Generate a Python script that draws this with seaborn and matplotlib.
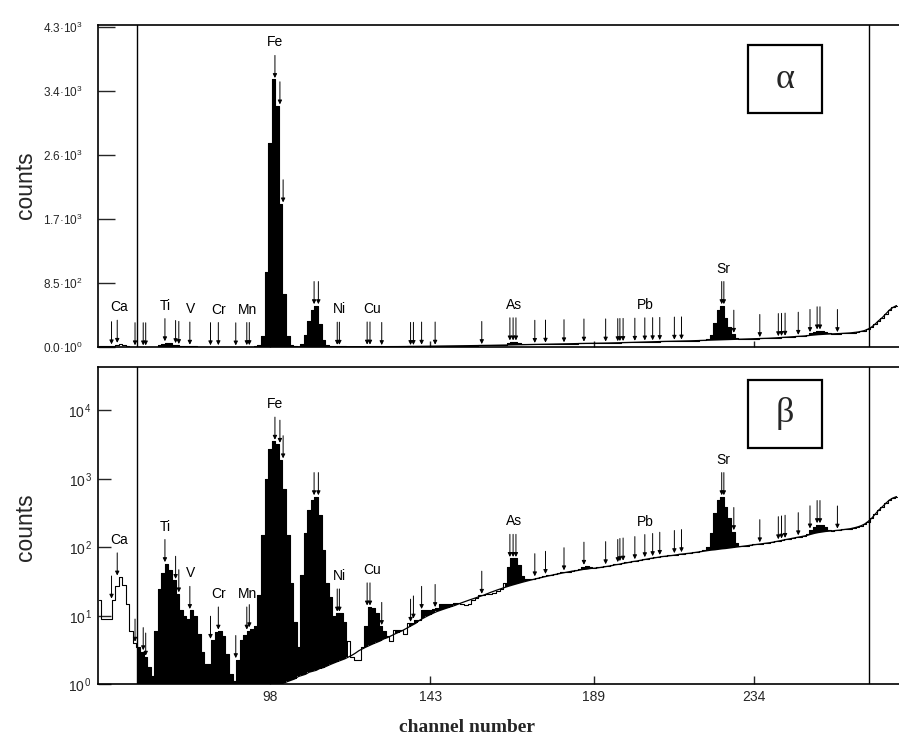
import numpy as np
import pandas as pd
import matplotlib
matplotlib.use("Agg")
import matplotlib.pyplot as plt
import seaborn as sns
from matplotlib.patches import Rectangle
from matplotlib.ticker import NullLocator

# ---------------- data ----------------
channels = list(range(50, 275))

counts = [
    17, 9, 9, 9, 17, 27, 37, 28, 15, 6,            # 50-59
    4, 3.5, 3, 2.5, 1.8, 1.3, 6, 25, 42, 58,       # 60-69
    47, 33, 21, 12, 10, 9, 12, 10, 5.5, 3,         # 70-79
    2, 2, 4.4, 5.9, 6, 5, 2.8, 1.4, 1.1, 2.3,      # 80-89
    4.4, 5.2, 6, 6.5, 7, 20, 150, 1000, 2700, 3550,  # 90-99
    3200, 1900, 700, 150, 30, 8, 3.5, 40, 160, 350,  # 100-109
    490, 550, 300, 90, 30, 19, 10, 11, 11, 8,      # 110-119
    4.3, 2.5, 2.3, 2.3, 3.5, 7, 13.5, 13, 11, 7,   # 120-129
    6, 5, 4.3, 6.2, 6.2, 6.2, 5.5, 7.8, 7.8, 8.7,  # 130-139
    8.7, 12, 12, 12, 12.5, 12.8, 15, 15, 15, 15,   # 140-149
    15.5, 15.5, 15, 14.4, 15, 17, 18, 20, 20, 21,  # 150-159
    21, 21.5, 23, 25, 30, 52, 69, 69, 55, 38,      # 160-169
    35, 34, 35, 36, 37, 38, 39, 40, 41, 42,        # 170-179
    43, 44, 44, 45, 46, 48, 51, 53, 52, 50,        # 180-189
    51, 52, 53, 54, 56, 58, 58, 60, 61, 62,        # 190-199
    63, 64, 65.5, 67, 68.5, 70, 71, 72.5, 74, 75,  # 200-209
    76, 77, 78.5, 80, 81, 82, 83, 84.5, 86, 88,    # 210-219
    92, 100, 160, 313, 490, 550, 390, 265, 170, 114,  # 220-229
    104, 106, 106, 108, 110, 111, 113, 115, 117, 119,  # 230-239
    122, 125, 128, 131, 134, 137, 140, 143, 148, 158,  # 240-249
    180, 200, 215, 215, 200, 180, 175, 177, 179, 182,  # 250-259
    185, 188, 192, 198, 206, 218, 238, 265, 305, 350,  # 260-269
    390, 440, 490, 525, 550,                        # 270-274
]

background = [
    0.1, 0.1, 0.1, 0.1, 0.1, 0.1, 0.1, 0.1, 0.1, 0.1,          # 50-59
    0.1, 0.1, 0.1, 0.1, 0.1, 0.1, 0.1, 0.1, 0.1, 0.1,          # 60-69
    0.1, 0.2, 0.2, 0.2, 0.2, 0.2, 0.2, 0.2, 0.2, 0.2,          # 70-79
    0.2, 0.3, 0.3, 0.3, 0.3, 0.3, 0.3, 0.3, 0.3, 0.3,          # 80-89
    0.3, 0.45, 0.45, 0.45, 0.45, 0.45, 0.55, 0.6, 0.7, 0.8,    # 90-99
    0.9, 1.0, 1.05, 1.1, 1.15, 1.2, 1.3, 1.35, 1.4, 1.5,       # 100-109
    1.55, 1.6, 1.7, 1.75, 1.85, 1.95, 2.05, 2.15, 2.25, 2.35,  # 110-119
    2.5, 2.65, 2.85, 3.1, 3.3, 3.5, 3.7, 3.9, 4.1, 4.3,        # 120-129
    4.6, 4.8, 5.1, 5.4, 5.7, 6.0, 6.4, 6.8, 7.3, 7.8,          # 130-139
    8.6, 9.2, 9.8, 10.4, 11.0, 11.6, 12.1, 12.6, 13.1, 13.6,   # 140-149
    14.2, 14.9, 15.6, 16.3, 17.0, 17.7, 18.4, 19.2, 20.0, 21.0,  # 150-159
    22, 23, 24, 25, 26, 27, 28, 29, 30, 31,                    # 160-169
    32, 33, 34, 35, 36, 37, 38, 39, 40, 41,                    # 170-179
    42, 43, 44, 45, 45.5, 46.5, 47.5, 48, 49, 49.5,            # 180-189
    50, 51, 52, 53, 54, 55.5, 56.5, 58, 59, 60.5,              # 190-199
    62, 63, 64.5, 66, 67.5, 69, 70, 71.5, 73, 74,              # 200-209
    75, 76, 77.5, 79, 80, 81, 82, 83.5, 85, 86.5,              # 210-219
    88, 89.5, 91, 92, 93.5, 95, 96, 97.5, 99, 100.5,           # 220-229
    102, 104, 105.5, 107, 109, 110.5, 112, 114, 116, 118,      # 230-239
    121, 124, 127, 130, 133, 136, 139, 142, 146, 150,          # 240-249
    155, 160, 164, 167, 170, 172, 174, 176, 178, 181,          # 250-259
    184, 187, 192, 198, 206, 218, 238, 265, 305, 350,          # 260-269
    390, 440, 490, 525, 550,                                   # 270-274
]

roi_lines = [60.6, 266.4]

arrow_channels = [
    53.5, 55.1, 60.1, 62.4, 63.1, 68.5, 71.5, 72.4, 75.5, 81.3, 83.5,
    88.4, 91.5, 92.2, 99.4, 100.8, 101.7, 110.4, 111.6, 116.9, 117.5,
    125.3, 126.1, 129.4, 137.5, 138.3, 140.6, 144.4, 157.5, 165.4,
    166.3, 167.1, 172.4, 175.4, 180.6, 186.2, 192.3, 195.7, 196.3,
    197.2, 200.5, 203.3, 205.5, 207.5, 211.6, 213.6, 224.9, 225.5,
    228.3, 235.6, 240.8, 241.7, 242.7, 246.4, 249.7, 251.7, 252.5, 257.4,
]

element_names = ["Ca", "Ti", "V", "Cr", "Mn", "Fe", "Ni", "Cu", "As", "Pb", "Sr"]
element_channels = [55.5, 68.7, 75.8, 83.5, 91.7, 99.5, 117.5, 126.7, 166.5, 203.5, 225.3]

x_ticks = [98, 143, 189, 234]
top_ticks = [0, 850, 1700, 2550, 3400, 4250]
top_tick_labels = ["0.0·10$^{0}$", "8.5·10$^{2}$", "1.7·10$^{3}$",
                   "2.6·10$^{3}$", "3.4·10$^{3}$", "4.3·10$^{3}$"]
bottom_ticks = [1, 10, 100, 1000, 10000]
bottom_tick_labels = [r"10$^{\,0}$", r"10$^{\,1}$", r"10$^{\,2}$",
                      r"10$^{\,3}$", r"10$^{\,4}$"]
panel_letters = ["α", "β"]

# ---------------- style ----------------
sns.set_theme(style="white")
plt.rcParams["font.family"] = ["Liberation Sans", "DejaVu Sans"]
plt.rcParams["mathtext.fontset"] = "custom"
plt.rcParams["mathtext.rm"] = "Liberation Sans"
plt.rcParams["mathtext.it"] = "Liberation Sans:italic"
plt.rcParams["mathtext.bf"] = "Liberation Sans:bold"

df = pd.DataFrame({"channel": channels, "counts": counts, "background": background})
df["in_roi"] = (df["channel"] >= roi_lines[0]) & (df["channel"] <= roi_lines[1])
count_at = dict(zip(df["channel"], df["counts"]))


def tip_value(ch):
    lo, hi = int(np.floor(ch)), int(np.ceil(ch))
    return max(count_at.get(lo, 1), count_at.get(hi, 1))


W, H = 899, 740
fig = plt.figure(figsize=(W / 100, H / 100), dpi=100)


def fig_rect(l, t, r, b):
    return [l / W, 1 - b / H, (r - l) / W, (b - t) / H]


ax_top = fig.add_axes(fig_rect(98, 25, 899, 347))
ax_bot = fig.add_axes(fig_rect(98, 367, 899, 684.3))

for ax, scale in [(ax_top, "linear"), (ax_bot, "log")]:
    ax.set_yscale(scale)
    fill_mask = df["in_roi"] & (df["counts"] > df["background"])
    ax.fill_between(df["channel"], df["background"], df["counts"], where=fill_mask,
                    step="mid", color="black", lw=0)
    sns.lineplot(data=df, x="channel", y="counts", ax=ax, drawstyle="steps-mid",
                 color="black", lw=0.8, estimator=None)
    sns.lineplot(data=df[df["channel"] >= 100], x="channel", y="background", ax=ax,
                 color="black", lw=0.9, estimator=None)
    for r in roi_lines:
        ax.axvline(r, color="black", lw=1.0)
    ax.set_xlim(49.7, 274.7)
    ax.set_xlabel("")
    ax.set_ylabel("")
    ax.set_facecolor("white")
    for s in ["left", "top", "bottom"]:
        ax.spines[s].set_visible(True)
        ax.spines[s].set_color("black")
        ax.spines[s].set_linewidth(1.2)
    ax.spines["right"].set_visible(False)

    for ch in arrow_channels:
        ax.annotate("", xy=(ch, tip_value(ch)), xytext=(0, 24), textcoords="offset pixels",
                    arrowprops=dict(arrowstyle="-|>", color="black", lw=0.7,
                                    mutation_scale=6, shrinkA=0, shrinkB=1))
    for name, ch in zip(element_names, element_channels):
        ax.annotate(name, xy=(ch, tip_value(ch)), xytext=(0, 37), textcoords="offset pixels",
                    ha="center", va="center", fontsize=10, color="black")

ax_top.set_ylim(0, 4272)
ax_top.set_yticks(top_ticks, top_tick_labels)
ax_top.set_xticks(x_ticks, [""] * len(x_ticks))
ax_top.tick_params(axis="y", direction="in", length=12, width=1.0, pad=11, labelsize=8.5, left=True)
ax_top.tick_params(axis="x", direction="in", length=4, width=1.0, bottom=True)

ax_bot.set_ylim(1, 42900)
ax_bot.set_yticks(bottom_ticks, bottom_tick_labels)
ax_bot.yaxis.set_minor_locator(NullLocator())
ax_bot.set_xticks(x_ticks, [str(v) for v in x_ticks])
ax_bot.tick_params(axis="y", direction="in", length=9.5, width=1.0, pad=4, labelsize=10, left=True)
ax_bot.tick_params(axis="x", direction="in", length=6, width=1.0, pad=4, labelsize=10, bottom=True)

# axis titles
fig.text(25.5 / W, 1 - 185 / H, "counts", rotation=90, ha="center", va="center", fontsize=16.5)
fig.text(25.5 / W, 1 - 527 / H, "counts", rotation=90, ha="center", va="center", fontsize=16.5)
fig.text(467 / W, 1 - 728 / H, "channel number", ha="center", va="center",
         fontsize=14, fontweight="bold", family="Liberation Serif")

# panel letters in boxes
for (cx, cy), letter in zip([(785, 79), (785, 413.5)], panel_letters):
    fig.add_artist(Rectangle(((cx - 37) / W, 1 - (cy + 34) / H), 74 / W, 68 / H,
                             transform=fig.transFigure, fill=False, lw=1.6, ec="black"))
    fig.text(cx / W, 1 - cy / H, letter, ha="center", va="center", fontsize=26,
             family="Liberation Serif")

fig.savefig("out.png", dpi=100, facecolor="white")
